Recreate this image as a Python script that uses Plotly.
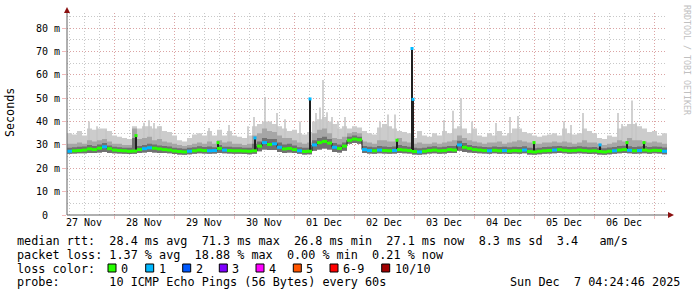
import pandas as pd
import plotly.graph_objects as go

# ---------------- data ----------------
START = "2025-11-27 05:12"
END = "2025-12-07 05:12"

# 2-hour consolidated blocks (120 blocks)
median_ms = [
    27.3, 27.5, 27.6, 27.8, 28.3, 28.0, 28.6, 29.2, 28.4, 27.8,
    27.6, 27.5, 27.3, 27.4, 28.0, 28.4, 28.8, 28.6, 28.3, 28.0,
    27.8, 27.4, 27.2, 27.0, 27.3, 27.5, 27.8, 27.6, 27.5, 27.6,
    28.5, 27.8, 27.6, 27.5, 27.5, 27.4, 27.3, 27.5, 29.5, 31.0,
    30.2, 30.5, 29.0, 28.3, 28.5, 28.0, 27.5, 27.2, 27.3, 30.0,
    31.0, 31.5, 30.8, 29.0, 28.5, 29.5, 32.0, 32.5, 32.2, 28.0,
    27.6, 27.5, 27.8, 27.6, 27.5, 27.6, 28.0, 27.8, 27.6, 27.2,
    27.0, 27.3, 27.6, 27.8, 27.5, 27.6, 28.0, 27.8, 30.0, 29.0,
    28.5, 28.0, 27.8, 27.6, 27.5, 27.7, 27.5, 27.6, 27.4, 27.6,
    27.5, 27.8, 27.2, 27.0, 27.3, 27.5, 27.6, 27.8, 28.0, 27.7,
    27.5, 27.6, 27.8, 27.6, 27.4, 27.5, 27.2, 27.0, 27.3, 27.5,
    27.8, 28.0, 27.7, 27.5, 27.6, 27.8, 27.5, 27.7, 27.6, 27.3,
]
loss_pings = [
    1, 0, 0, 0, 0, 0, 0, 1, 0, 0,
    0, 0, 0, 0, 0, 1, 1, 0, 0, 0,
    0, 0, 0, 0, 1, 0, 0, 0, 1, 1,
    0, 1, 0, 0, 0, 0, 0, 0, 0, 1,
    0, 1, 1, 0, 0, 0, 1, 0, 0, 1,
    0, 0, 0, 1, 0, 0, 0, 0, 0, 1,
    1, 0, 1, 0, 0, 1, 0, 0, 0, 0,
    1, 0, 0, 0, 0, 0, 0, 0, 1, 0,
    0, 0, 0, 0, 1, 0, 0, 1, 0, 0,
    0, 1, 0, 0, 0, 0, 0, 1, 0, 0,
    0, 0, 0, 0, 0, 0, 0, 0, 0, 1,
    0, 0, 1, 0, 1, 0, 0, 0, 0, 1,
]
smoke_hi = [
    35, 34.5, 36, 34, 37, 36.5, 37, 37, 36, 34,
    33.5, 33, 32.5, 38, 37, 38, 38, 37, 38, 36,
    35.5, 34, 32, 31.5, 33, 34.5, 35, 34, 36, 34,
    36.5, 34, 36, 34, 33.5, 33, 34, 38, 39, 40,
    40, 39, 38, 37, 36, 36.5, 35, 34.5, 35.5, 40,
    41, 42, 40, 39, 37, 38, 37, 38, 37.5, 36,
    35, 34.5, 37.5, 39, 38, 37, 36, 35.5, 35, 33,
    36, 34, 33.5, 35, 34, 36, 35, 37, 38, 37,
    35, 37, 34, 33.5, 35, 34, 36, 34, 35, 37,
    37, 35.5, 35, 34, 33.5, 34, 34.5, 35, 34, 37,
    35, 34.5, 35, 37, 36, 35, 33, 32.5, 34, 33.5,
    37, 38, 39, 39, 38, 37, 35.5, 36, 34, 35,
]
smoke_mid = [
    30.5, 30.5, 31, 30.5, 32, 31.5, 32, 32.5, 31.5, 30.5,
    30.5, 30, 30, 37, 32.5, 33, 33.5, 32, 32.5, 31.5,
    31, 30.5, 30, 29.5, 30, 30.5, 31, 30.5, 31.5, 30.5,
    32, 31, 31.5, 30.5, 30.5, 30, 30.5, 34, 35, 37,
    36, 35.5, 34, 33, 33, 32, 31, 30.5, 31, 35,
    36.5, 37, 35, 33, 32.5, 33.5, 35, 35.5, 35, 31.5,
    31, 30.5, 32, 32, 31.5, 31.5, 33, 31.5, 31, 30.5,
    31, 30.5, 30.5, 31, 30.5, 31, 31.5, 32, 34, 33,
    32, 31.5, 31, 30.5, 31, 31, 31.5, 30.5, 31, 31.5,
    32, 31.5, 31, 30.5, 30.5, 31, 31, 31.5, 31, 31.5,
    31, 30.5, 31, 32, 31, 31, 30.5, 30, 30.5, 31,
    32, 31.5, 33, 32, 32, 31.5, 31, 31.5, 31, 30.5,
]
smoke_dark = [
    28.8, 29, 29.2, 29.3, 30, 29.5, 30.2, 30.8, 29.8, 29.2,
    29, 28.8, 28.8, 33, 29.6, 30, 30.5, 30.2, 29.8, 29.5,
    29.3, 28.8, 28.6, 28.4, 28.8, 29, 29.4, 29.1, 29.3, 29,
    30, 29.2, 29.2, 29, 29, 28.8, 28.8, 30.5, 31.5, 33,
    32.5, 32.5, 31, 30.2, 30.5, 29.8, 29, 28.8, 28.8, 32,
    33, 33.5, 32.5, 30.8, 30.2, 31, 33.5, 34, 33.5, 29.5,
    29.2, 29, 29.5, 29.3, 29.1, 29.3, 30, 29.5, 29.2, 28.8,
    28.6, 28.8, 29.2, 29.4, 29, 29.2, 29.6, 29.5, 31.8, 30.8,
    30, 29.6, 29.3, 29.1, 29, 29.3, 29.1, 29.2, 29, 29.2,
    29.1, 29.4, 28.8, 28.6, 28.8, 29.1, 29.2, 29.4, 29.6, 29.3,
    29.1, 29.2, 29.4, 29.2, 29, 29.1, 28.8, 28.6, 28.9, 29.1,
    29.5, 29.7, 29.4, 29.1, 29.3, 29.5, 29.1, 29.3, 29.2, 28.9,
]
smoke_lo = [
    26.2, 26.3, 26.4, 26.4, 26.6, 26.5, 26.8, 27, 26.6, 26.4,
    26.3, 26.2, 26.1, 26.2, 26.6, 26.8, 27, 26.8, 26.6, 26.5,
    26.4, 26.1, 25.9, 25.8, 26, 26.2, 26.4, 26.3, 26.2, 26.3,
    26.6, 26.4, 26.3, 26.2, 26.2, 26.1, 26, 26.2, 27.3, 28,
    27.8, 27.8, 27, 26.6, 26.8, 26.5, 26.2, 25.9, 26, 27.5,
    28, 28.5, 28, 27, 26.8, 27.5, 30.5, 30.8, 30.5, 26.5,
    26.3, 26.2, 26.4, 26.3, 26.2, 26.3, 26.6, 26.4, 26.3, 25.9,
    25.8, 26, 26.3, 26.4, 26.2, 26.3, 26.6, 26.5, 27.5, 27,
    26.8, 26.6, 26.4, 26.3, 26.2, 26.4, 26.2, 26.3, 26.1, 26.3,
    26.2, 26.4, 25.9, 25.8, 26, 26.2, 26.3, 26.4, 26.6, 26.4,
    26.2, 26.3, 26.4, 26.3, 26.1, 26.2, 25.9, 25.8, 26, 26.2,
    26.4, 26.6, 26.4, 26.2, 26.3, 26.4, 26.2, 26.4, 26.3, 26.0,
]

# single-sample median spikes
spike_time = ["2025-11-28 08:48", "2025-11-29 17:36", "2025-11-30 08:24",
              "2025-12-01 06:24", "2025-12-02 17:12", "2025-12-02 23:12",
              "2025-12-02 23:36", "2025-12-05 00:00", "2025-12-06 02:24",
              "2025-12-06 13:12", "2025-12-06 20:00"]
spike_base = [27.4, 27.8, 27.5, 27.3, 27.8, 27.6, 27.2, 27.3, 27.2, 28.0, 27.6]
spike_top = [34.0, 31.0, 33.0, 49.7, 32.0, 71.3, 49.5, 31.0, 30.0, 31.0, 31.0]
spike_loss = [0, 0, 1, 1, 0, 1, 1, 0, 1, 0, 0]

# single-sample smoke (max ping) spikes
smoke_spike_time = ["2025-11-27 14:00", "2025-11-27 17:12", "2025-11-27 20:48",
                    "2025-11-28 12:00", "2025-11-28 14:00", "2025-11-28 16:00",
                    "2025-11-28 18:24", "2025-11-29 14:00", "2025-11-29 22:00",
                    "2025-11-30 05:36", "2025-11-30 08:00", "2025-11-30 12:24",
                    "2025-11-30 17:12", "2025-11-30 20:24", "2025-12-01 02:24",
                    "2025-12-01 08:48", "2025-12-01 10:24", "2025-12-01 11:36",
                    "2025-12-01 13:12", "2025-12-01 15:12", "2025-12-01 17:36",
                    "2025-12-01 20:24", "2025-12-02 10:24", "2025-12-02 13:36",
                    "2025-12-02 16:24", "2025-12-03 12:00", "2025-12-03 15:36",
                    "2025-12-03 18:48", "2025-12-03 23:12", "2025-12-04 08:48",
                    "2025-12-04 14:24", "2025-12-04 17:36", "2025-12-05 12:00",
                    "2025-12-05 14:48", "2025-12-05 19:36", "2025-12-06 09:36",
                    "2025-12-06 11:12", "2025-12-06 15:12", "2025-12-06 16:48"]
smoke_spike_top = [40, 38, 36.5, 39.5, 40.6, 39.4, 38, 37.3, 38.5, 38, 42,
                   50.5, 43.7, 41, 40, 43.7, 46, 57.8, 44, 42, 40, 42, 40,
                   43, 43, 40.7, 44.6, 50, 40, 39.4, 42, 42.4, 40, 38.5,
                   43.7, 43.7, 39, 49, 39.5]

day_midnights = ["2025-11-28", "2025-11-29", "2025-11-30", "2025-12-01",
                 "2025-12-02", "2025-12-03", "2025-12-04", "2025-12-05",
                 "2025-12-06", "2025-12-07"]
day_label_pos = ["2025-11-27 12:00", "2025-11-28 12:00", "2025-11-29 12:00",
                 "2025-11-30 12:00", "2025-12-01 12:00", "2025-12-02 12:00",
                 "2025-12-03 12:00", "2025-12-04 12:00", "2025-12-05 12:00",
                 "2025-12-06 12:00"]
day_labels = ["27 Nov", "28 Nov", "29 Nov", "30 Nov", "01 Dec",
              "02 Dec", "03 Dec", "04 Dec", "05 Dec", "06 Dec"]

y_ticks = [0, 10, 20, 30, 40, 50, 60, 70, 80]
y_tick_text = ["0\u00a0\u00a0", "10 m", "20 m", "30 m", "40 m",
               "50 m", "60 m", "70 m", "80 m"]

loss_labels = ["0", "1", "2", "3", "4", "5", "6-9", "10/10"]
loss_colors = ["#26ff00", "#00b8ff", "#0059ff", "#7e00ff",
               "#ff00ff", "#ff5500", "#ff0000", "#a10000"]

legend_lines = [
    "median rtt:  28.4 ms avg  71.3 ms max  26.8 ms min  27.1 ms now  8.3 ms sd  3.4   am/s",
    "packet loss: 1.37 % avg  18.88 % max  0.00 % min  0.21 % now",
    "loss color:",
    "probe:       10 ICMP Echo Pings (56 Bytes) every 60s",
]
stamp = "Sun Dec  7 04:24:46 2025"

# ---------------- layout geometry (pixels) ----------------
W, H = 697, 297
PL, PR, PT, PB = 67, 667, 13, 215
MONO = "DejaVu Sans Mono"
MAJ = "rgba(232,140,140,0.6)"
MIN = "#c8c8c8"


def px(x):
    return (x - PL) / (PR - PL)


def py(y):
    return (PB - y) / (PB - PT)


def nb(s):
    return s.replace(" ", "\u00a0")


t = pd.date_range(START, periods=len(median_ms) + 1, freq="2h")


def step(v):
    return list(v) + [v[-1]]


fig = go.Figure()


def band(lo, hi, color):
    fig.add_trace(go.Scatter(x=t, y=step(lo), mode="lines",
                             line=dict(width=0, shape="hv", color="rgba(0,0,0,0)"),
                             hoverinfo="skip", showlegend=False))
    fig.add_trace(go.Scatter(x=t, y=step(hi), mode="lines", fill="tonexty",
                             fillcolor=color,
                             line=dict(width=0, shape="hv", color="rgba(0,0,0,0)"),
                             hoverinfo="skip", showlegend=False))


band(smoke_lo, smoke_hi, "#cccccc")

# thin smoke spikes
sx, sy = [], []
for tt, v in zip(smoke_spike_time, smoke_spike_top):
    sx += [tt, tt, None]
    sy += [31, v, None]
fig.add_trace(go.Scatter(x=sx, y=sy, mode="lines",
                         line=dict(width=1.6, color="#c6c6c6"),
                         hoverinfo="skip", showlegend=False))

band(smoke_lo, smoke_mid, "#a6a6a6")
band(smoke_lo, smoke_dark, "#717171")

# dark median line
fig.add_trace(go.Scatter(x=t, y=step(median_ms), mode="lines",
                         line=dict(width=1, shape="hv", color="#202020"),
                         hoverinfo="skip", showlegend=False))

# median spikes (dark)
kx, ky = [], []
for tt, b, v in zip(spike_time, spike_base, spike_top):
    kx += [tt, tt, None]
    ky += [b, v, None]
fig.add_trace(go.Scatter(x=kx, y=ky, mode="lines",
                         line=dict(width=2, color="#202020"),
                         hoverinfo="skip", showlegend=False))

# coloured median by loss
for lvl in sorted(set(loss_pings)):
    mx, my = [], []
    for i, (m, l) in enumerate(zip(median_ms, loss_pings)):
        if l == lvl:
            mx += [t[i], t[i + 1], None]
            my += [m, m, None]
    fig.add_trace(go.Scatter(x=mx, y=my, mode="lines",
                             line=dict(width=3, color=loss_colors[lvl]),
                             hoverinfo="skip", showlegend=False))

fig.add_trace(go.Scatter(x=spike_time, y=spike_top, mode="markers",
                         marker=dict(symbol="square", size=3,
                                     color=[loss_colors[l] for l in spike_loss],
                                     line=dict(width=0)),
                         hoverinfo="skip", showlegend=False))

# dummy trace for label axis
fig.add_trace(go.Scatter(x=[START, END], y=[None, None], xaxis="x2",
                         mode="lines", showlegend=False, hoverinfo="skip"))

shapes = [
    dict(type="line", xref="paper", yref="paper", x0=px(67), x1=px(67),
         y0=py(215), y1=py(11), line=dict(color="#606060", width=1)),
    dict(type="line", xref="paper", yref="paper", x0=px(67), x1=px(670),
         y0=py(215), y1=py(215), line=dict(color="#606060", width=1)),
    dict(type="path", xref="paper", yref="paper",
         path=f"M {px(64)},{py(13)} L {px(70)},{py(13)} L {px(67)},{py(7)} Z",
         fillcolor="#8b1010", line=dict(width=0)),
    dict(type="path", xref="paper", yref="paper",
         path=f"M {px(668)},{py(212)} L {px(668)},{py(218)} L {px(674)},{py(215)} Z",
         fillcolor="#8b1010", line=dict(width=0)),
]

annotations = []
line_y = [241, 255, 268.5, 282]
for s, yy in zip(legend_lines, line_y):
    annotations.append(dict(text=nb(s), xref="paper", yref="paper",
                            x=px(16), y=py(yy), xanchor="left", yanchor="middle",
                            showarrow=False, borderpad=0,
                            font=dict(family=MONO, size=11.8, color="black")))
annotations.append(dict(text=nb(stamp), xref="paper", yref="paper",
                        x=px(681), y=py(282), xanchor="right", yanchor="middle",
                        showarrow=False, borderpad=0,
                        font=dict(family=MONO, size=11.8, color="black")))

sq_x = [108, 145.7, 182.7, 219.3, 256, 293.3, 330, 381.7]
for xq, lab, col in zip(sq_x, loss_labels, loss_colors):
    shapes.append(dict(type="rect", xref="paper", yref="paper",
                       x0=px(xq), x1=px(xq + 8), y0=py(272), y1=py(264),
                       fillcolor=col, line=dict(color="black", width=1)))
    annotations.append(dict(text=lab, xref="paper", yref="paper",
                            x=px(xq + 12), y=py(268.5), xanchor="left",
                            yanchor="middle", showarrow=False, borderpad=0,
                            font=dict(family=MONO, size=11.8, color="black")))

annotations.append(dict(text="Seconds", xref="paper", yref="paper",
                        x=px(10), y=py(113), xanchor="center", yanchor="middle",
                        textangle=-90, showarrow=False, borderpad=0,
                        font=dict(family=MONO, size=11.7, color="black")))
annotations.append(dict(text=nb("RRDTOOL / TOBI OETIKER"), xref="paper",
                        yref="paper", x=px(687), y=py(60), xanchor="center",
                        yanchor="middle", textangle=90, showarrow=False,
                        borderpad=0,
                        font=dict(family=MONO, size=8.3, color="#c0c0c0")))

fig.update_layout(
    width=W, height=H,
    margin=dict(l=PL, r=W - PR, t=PT, b=H - PB),
    paper_bgcolor="white", plot_bgcolor="white",
    showlegend=False,
    font=dict(family=MONO, size=10, color="black"),
    xaxis=dict(type="date", range=[START, END], tickmode="array",
               tickvals=day_midnights, showticklabels=False,
               showgrid=True, gridcolor=MAJ, griddash="1px,2px", gridwidth=1,
               ticks="outside", ticklen=3, tickcolor=MAJ,
               zeroline=False, showline=False, fixedrange=True,
               minor=dict(tickmode="linear", tick0="2025-11-27",
                          dtick=6 * 3600 * 1000, showgrid=True,
                          gridcolor=MIN, griddash="1px,2px", gridwidth=1)),
    xaxis2=dict(type="date", overlaying="x", anchor="y", side="bottom",
                range=[START, END], tickmode="array", tickvals=day_label_pos,
                ticktext=day_labels, showgrid=False, ticks="",
                zeroline=False, showline=False,
                tickfont=dict(family=MONO, size=10, color="black")),
    yaxis=dict(range=[0, 86.5], tickmode="array", tickvals=y_ticks,
               ticktext=y_tick_text, showgrid=True, gridcolor=MAJ,
               griddash="1px,2px", gridwidth=1, zeroline=False,
               ticks="outside", ticklen=4, tickcolor=MAJ, showline=False,
               tickfont=dict(family=MONO, size=10, color="black"),
               minor=dict(tickmode="linear", tick0=0, dtick=5, showgrid=True,
                          gridcolor=MIN, griddash="1px,2px", gridwidth=1)),
    shapes=shapes,
    annotations=annotations,
)

fig.write_html("out.html")
